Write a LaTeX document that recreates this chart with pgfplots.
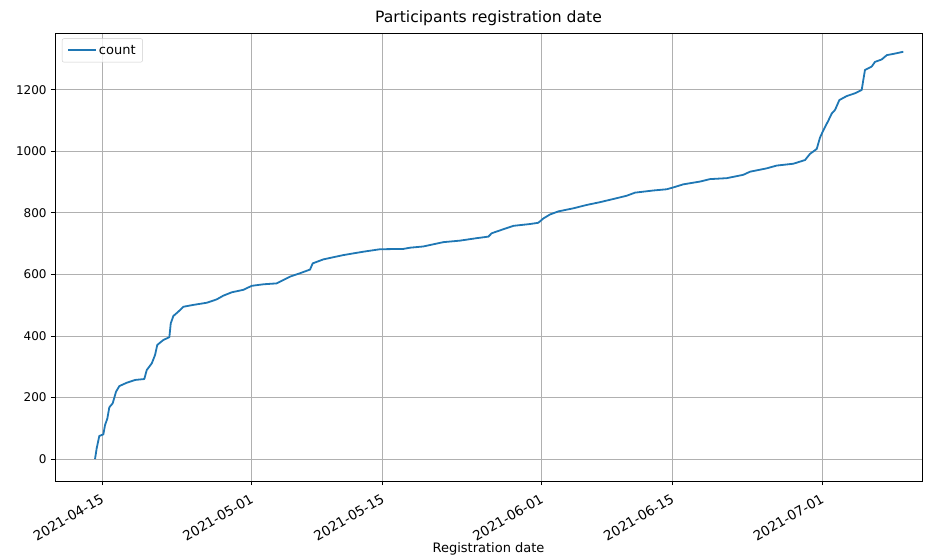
\documentclass[border=0pt]{standalone}
\usepackage{fontspec}
\setmainfont{DejaVu Sans}
\usepackage{pgfplots}
\pgfplotsset{compat=1.18}
\definecolor{mplblue}{HTML}{1F77B4}
\definecolor{gridgray}{HTML}{B0B0B0}
\begin{document}
\begin{tikzpicture}
\begin{axis}[
  scale only axis,
  width=867pt, height=448pt,
  xmin=-5.03, xmax=87.7,
  ymin=-71.5, ymax=1385,
  xtick={0,16,30,47,61,77},
  xticklabels={2021-04-15,2021-05-01,2021-05-15,2021-06-01,2021-06-15,2021-07-01},
  ytick={0,200,400,600,800,1000,1200},
  /pgf/number format/assume math mode=true,
  /pgf/number format/1000 sep={},
  tick style={black, line width=0.9pt},
  major tick length=4.2pt,
  tick align=outside,
  xtick pos=bottom, ytick pos=left,
  axis line style={black, line width=0.9pt},
  grid=major,
  major grid style={gridgray, line width=0.9pt},
  yticklabel style={font=\fontsize{12}{14}\selectfont, inner sep=1pt, xshift=-3pt},
  xticklabel style={font=\fontsize{13.5}{15}\selectfont, rotate=30, anchor=north east, inner sep=1pt, yshift=-5pt, xshift=-5pt},
  title={Participants registration date},
  title style={font=\fontsize{15.6}{18}\selectfont, yshift=-2pt},
  xlabel={Registration date},
  xlabel style={font=\fontsize{13}{15}\selectfont, at={(axis description cs:0.5,0)}, anchor=center, yshift=-68pt},
  legend style={font=\fontsize{13}{15}\selectfont, draw=gray!40, rounded corners=2pt, fill=white, fill opacity=0.8, text opacity=1, draw opacity=1, at={(0.008,0.988)}, anchor=north west, inner xsep=5pt, inner ysep=4.5pt},
  legend image code/.code={\draw[mplblue, line width=1.8pt] (0pt,0pt) -- (28pt,0pt);},
  legend cell align=left,
]
\addplot[mplblue, line width=1.8pt, line join=round] coordinates {
(-0.75,0) (-0.57,35) (-0.29,75) (0.14,80) (0.32,110) (0.57,132) (0.78,168)
(1.14,181) (1.50,219) (1.85,237) (2.64,248) (3.53,257) (4.52,260) (4.78,289)
(5.32,311) (5.67,338) (5.91,371) (6.56,387) (7.20,396) (7.35,441) (7.63,465)
(8.16,479) (8.70,495) (9.76,501) (11.20,508) (12.27,519) (12.97,531) (13.87,542)
(15.11,550) (16.01,563) (17.25,568) (18.68,571) (19.39,582) (20.11,593) (21.18,604)
(22.25,616) (22.53,636) (23.67,649) (25.81,663) (27.95,674) (29.73,682) (32.22,683)
(32.94,687) (34.36,691) (36.50,705) (38.29,710) (40.07,718) (41.32,723) (41.68,734)
(42.92,747) (43.99,758) (45.78,764) (46.66,768) (47.20,782) (47.91,795) (48.80,805)
(50.40,815) (51.84,826) (53.26,835) (55.05,848) (56.12,856) (57.01,866) (58.96,873)
(60.40,877) (61.10,883) (62.17,893) (63.96,902) (65.03,910) (66.81,913) (68.59,924)
(69.30,934) (71.09,945) (72.16,954) (73.94,960) (75.19,972) (75.72,992) (76.44,1008)
(76.79,1045) (77.14,1068) (77.68,1100) (78.04,1123) (78.40,1135) (78.86,1167)
(79.65,1180) (80.53,1189) (81.25,1200) (81.60,1265) (82.32,1276) (82.67,1291)
(83.39,1299) (83.93,1313) (84.63,1317) (85.70,1324)
};
\addlegendentry{count}
\end{axis}
\path ([xshift=-55pt,yshift=-77pt]current axis.south west) rectangle ([xshift=16pt,yshift=33pt]current axis.north east);
\end{tikzpicture}
\end{document}
